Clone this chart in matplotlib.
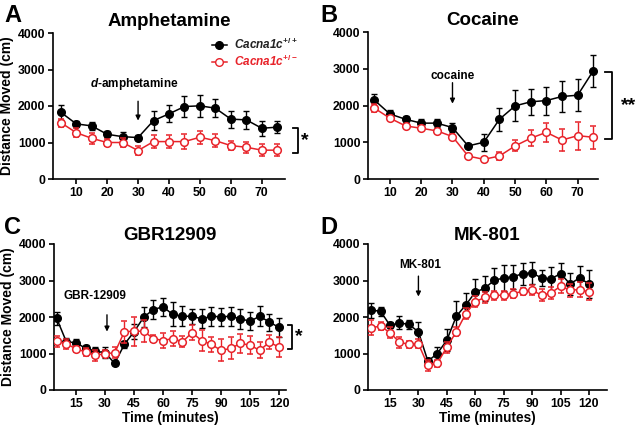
import matplotlib
matplotlib.use("Agg")
import matplotlib.pyplot as plt
import matplotlib.transforms as mtransforms
from matplotlib.lines import Line2D
import numpy as np

plt.rcParams['font.family'] = ['Liberation Sans', 'DejaVu Sans']
plt.rcParams['font.weight'] = 'bold'
plt.rcParams['mathtext.fontset'] = 'custom'
plt.rcParams['mathtext.rm'] = 'Liberation Sans:bold'
plt.rcParams['mathtext.it'] = 'Liberation Sans:italic:bold'
plt.rcParams['mathtext.bf'] = 'Liberation Sans:bold'
plt.rcParams['mathtext.bfit'] = 'Liberation Sans:italic:bold'

# ---------------- data ----------------
t75 = np.arange(5, 80, 5)
t120 = np.arange(5, 125, 5)

amph_wt = [1830, 1510, 1455, 1225, 1160, 1135, 1600, 1785, 1985, 2005, 1940, 1640, 1620, 1390, 1420]
amph_wt_err = [200, 80, 100, 80, 120, 70, 270, 230, 280, 300, 250, 230, 240, 200, 170]
amph_het = [1545, 1270, 1115, 1000, 1000, 780, 1025, 1025, 1025, 1145, 1050, 915, 870, 790, 790]
amph_het_err = [110, 120, 150, 100, 130, 120, 170, 170, 200, 180, 170, 130, 150, 170, 170]

coc_wt = [2150, 1770, 1625, 1520, 1520, 1400, 900, 1000, 1625, 1990, 2100, 2135, 2245, 2280, 2945]
coc_wt_err = [150, 100, 100, 100, 100, 130, 60, 230, 320, 420, 350, 380, 430, 440, 430]
coc_het = [1930, 1655, 1445, 1380, 1310, 1155, 625, 535, 625, 900, 1110, 1270, 1060, 1180, 1135]
coc_het_err = [100, 60, 60, 50, 50, 80, 40, 40, 100, 150, 220, 250, 290, 380, 310]

gbr_wt = [1960, 1320, 1295, 1140, 1065, 1020, 730, 1250, 1595, 1995, 2205, 2280,
          2070, 2020, 2020, 1950, 2020, 2005, 2020, 1950, 1885, 2020, 1860, 1715]
gbr_wt_err = [180, 100, 100, 80, 100, 150, 50, 100, 200, 280, 270, 250,
              330, 270, 200, 260, 260, 250, 260, 270, 250, 270, 230, 270]
gbr_het = [1340, 1265, 1130, 1040, 950, 995, 1020, 1595, 1610, 1610, 1410, 1355,
           1410, 1320, 1570, 1355, 1250, 1085, 1140, 1275, 1230, 1085, 1310, 1175]
gbr_het_err = [150, 130, 80, 100, 150, 100, 150, 300, 400, 300, 100, 200,
               200, 150, 200, 300, 200, 300, 300, 250, 250, 220, 200, 280]

mk_wt = [2185, 2160, 1770, 1840, 1795, 1595, 790, 1000, 1365, 2020, 2330, 2680,
         2790, 3005, 3070, 3100, 3190, 3205, 3070, 3045, 3190, 2905, 3070, 2905]
mk_wt_err = [200, 120, 80, 180, 120, 280, 100, 180, 300, 420, 330, 360,
             340, 330, 350, 330, 300, 300, 230, 320, 300, 300, 330, 380]
mk_het = [1705, 1750, 1570, 1310, 1250, 1265, 675, 730, 1175, 1595, 2095, 2415,
          2540, 2595, 2595, 2640, 2705, 2735, 2595, 2660, 2845, 2735, 2750, 2690]
mk_het_err = [200, 100, 150, 150, 100, 120, 150, 100, 150, 120, 150, 150,
              150, 130, 130, 130, 100, 130, 170, 170, 200, 180, 200, 230]

titles = ["Amphetamine", "Cocaine", "GBR12909", "MK-801"]
letters = ["A", "B", "C", "D"]
ticks75 = [10, 20, 30, 40, 50, 60, 70]
ticks120 = [15, 30, 45, 60, 75, 90, 105, 120]
yticks = [0, 1000, 2000, 3000, 4000]
legend_labels = [r'$\mathbfit{Cacna1c}^{+/+}$', r'$\mathbfit{Cacna1c}^{+/-}$']

RED = '#e8232a'

fig = plt.figure(figsize=(6.39, 4.33), dpi=100)
W, H = 639, 433

def make_ax(l, r, t, b):
    return fig.add_axes([l / W, 1 - b / H, (r - l) / W, (b - t) / H])

axA = make_ax(53, 285, 33, 179)
axB = make_ax(368, 598, 32, 179)
axC = make_ax(54, 286, 244, 390)
axD = make_ax(368, 607, 244, 390)

def draw(ax, t, wt, wte, het, hete):
    ax.errorbar(t, wt, yerr=wte, color='black', marker='o', markersize=5.5,
                mfc='black', mec='black', lw=1.1, elinewidth=1.0, capsize=2.5,
                capthick=1.0, zorder=3)
    ax.errorbar(t, het, yerr=hete, color=RED, marker='o', markersize=5.5,
                mfc='white', mec=RED, mew=1.1, lw=1.1, elinewidth=1.0, capsize=2.5,
                capthick=1.0, zorder=4)

def style(ax, xlim, xticks, title, ylabel=True, xlabel=False, pad=6):
    ax.set_xlim(*xlim)
    ax.set_ylim(0, 4000)
    ax.set_yticks(yticks)
    ax.set_xticks(xticks)
    for s in ['top', 'right']:
        ax.spines[s].set_visible(False)
    for s in ['left', 'bottom']:
        ax.spines[s].set_linewidth(1.2)
    ax.tick_params(labelsize=8.8, width=1.2, length=3.5, pad=2)
    for lab in ax.get_xticklabels() + ax.get_yticklabels():
        lab.set_fontweight('bold')
    ax.set_title(title, fontsize=13.5, fontweight='bold', pad=pad)
    if ylabel:
        ax.set_ylabel("Distance Moved (cm)", fontsize=10, fontweight='bold', labelpad=3)
    if xlabel:
        ax.set_xlabel("Time (minutes)", fontsize=9.8, fontweight='bold', labelpad=1)

draw(axA, t75, amph_wt, amph_wt_err, amph_het, amph_het_err)
draw(axB, t75, coc_wt, coc_wt_err, coc_het, coc_het_err)
draw(axC, t120, gbr_wt, gbr_wt_err, gbr_het, gbr_het_err)
draw(axD, t120, mk_wt, mk_wt_err, mk_het, mk_het_err)

style(axA, (2.5, 77.5), ticks75, titles[0], ylabel=True, pad=5)
style(axB, (3, 76.5), ticks75, titles[1], ylabel=False, pad=5)
style(axC, (3.6, 123.6), ticks120, titles[2], ylabel=True, xlabel=True, pad=3)
style(axD, (3.4, 129.5), ticks120, titles[3], ylabel=False, xlabel=True, pad=3)

# panel letters
for x, y, L in zip([4, 320, 4, 320], [15, 15, 227, 227], letters):
    fig.text(x / W, 1 - y / H, L, fontsize=17, fontweight='bold', ha='left', va='center')

# legend
handles = [Line2D([], [], color='black', marker='o', markersize=5.5, mfc='black', lw=1.1),
           Line2D([], [], color=RED, marker='o', markersize=5.5, mfc='white', mec=RED, lw=1.1)]
leg = axA.legend(handles, legend_labels, loc='upper right', bbox_to_anchor=(1.085, 1.02),
                 frameon=False, fontsize=8.5, handlelength=1.3, handletextpad=0.6,
                 labelspacing=0.15, borderaxespad=0.2)
for txt, col in zip(leg.get_texts(), ['#222222', RED]):
    txt.set_color(col)

# arrows / drug annotations
def annot(ax, text, tx, ty, ax_x, y0, y1, fs=8.5):
    ax.text(tx, ty, text, ha='center', va='center', fontsize=fs, fontweight='bold')
    ax.annotate('', xy=(ax_x, y1), xytext=(ax_x, y0),
                arrowprops=dict(arrowstyle='-|>', color='black', lw=1.0,
                                mutation_scale=7, shrinkA=0, shrinkB=0))

annot(axA, r'$\mathbfit{d}$-amphetamine', 28.7, 2600, 30, 2130, 1600)
annot(axB, 'cocaine', 30, 2810, 30, 2620, 2050)
annot(axC, 'GBR-12909', 25, 2570, 31, 2060, 1600)
annot(axD, 'MK-801', 30.8, 3435, 30, 3120, 2560)

# significance brackets
def bracket(ax, x0, x1, ytop, ybot, star, sx):
    tr = mtransforms.blended_transform_factory(ax.transAxes, ax.transData)
    ax.plot([x0, x1, x1, x0], [ytop, ytop, ybot, ybot], color='black', lw=1.3,
            transform=tr, clip_on=False)
    ax.text(sx, (ytop + ybot) / 2, star, transform=tr, ha='center', va='center',
            fontsize=14, fontweight='bold')

bracket(axA, 1.035, 1.055, 1400, 720, '*', 1.085)
bracket(axB, 1.03, 1.06, 2900, 1080, '**', 1.135)
bracket(axC, 1.01, 1.025, 1780, 1130, '*', 1.055)

fig.savefig('out.png', dpi=100)
